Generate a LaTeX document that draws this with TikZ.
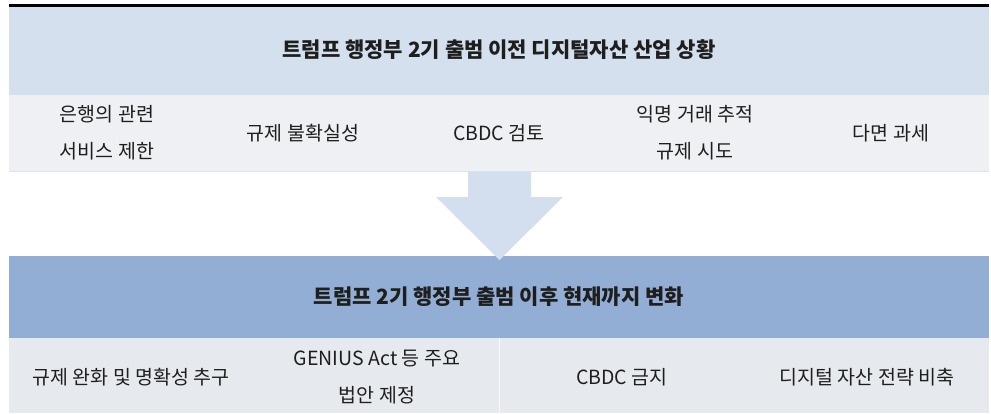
\documentclass[tikz,border=0pt]{standalone}
\usepackage{fontspec}
\setmainfont{Noto Sans CJK KR}
\definecolor{hdrA}{HTML}{D5E0EE}
\definecolor{rowA}{HTML}{EEF0F3}
\definecolor{lineA}{HTML}{DCE4EE}
\definecolor{arrowc}{HTML}{D3DFEE}
\definecolor{hdrB}{HTML}{92AED4}
\definecolor{rowB}{HTML}{E6EAEE}
\definecolor{txt}{HTML}{1E1E1E}
\begin{document}
\begin{tikzpicture}[x=1pt,y=-1pt,
  cell/.style={text=txt,align=center,inner sep=0pt,font=\fontsize{19.5}{37}\selectfont},
  title/.style={text=txt,align=center,inner sep=0pt,font=\fontsize{21}{24}\selectfont\bfseries}]
\useasboundingbox (0,0) rectangle (991,413);
% top rule
\fill[black] (9,4) rectangle (989,6.5);
% header 1
\fill[hdrA] (9,6.5) rectangle (989,95);
\node[title] (t1) at (499,50) {트럼프 행정부 2기 출범 이전 디지털자산 산업 상황};
% row 1
\fill[rowA] (9,95) rectangle (989,171);
\draw[lineA,line width=0.8pt] (9,171) -- (989,171);
\node[cell] (a1) at (107,133) {은행의 관련\\서비스 제한};
\node[cell] (a2) at (303,133) {규제 불확실성};
\node[cell] (a3) at (499,133) {CBDC 검토};
\node[cell] (a4) at (695,133) {익명 거래 추적\\규제 시도};
\node[cell] (a5) at (891,133) {다면 과세};
% header 2
\fill[hdrB] (9,256) rectangle (989,338);
\node[title] (t2) at (499,297) {트럼프 2기 행정부 출범 이후 현재까지 변화};
% arrow
\fill[arrowc] (468,171.5) -- (531,171.5) -- (531,197) -- (563,197) -- (499.5,260) -- (436,197) -- (468,197) -- cycle;
% row 2
\fill[rowB] (9,338) rectangle (989,413);
\draw[white!70!rowB,line width=0.8pt] (499.5,338) -- (499.5,413);
\node[cell] (b1) at (131,377) {규제 완화 및 명확성 추구};
\node[cell] (b2) at (377,377) {GENIUS Act 등 주요\\법안 제정};
\node[cell] (b3) at (622,377) {CBDC 금지};
\node[cell] (b4) at (867,377) {디지털 자산 전략 비축};
\end{tikzpicture}
\end{document}
